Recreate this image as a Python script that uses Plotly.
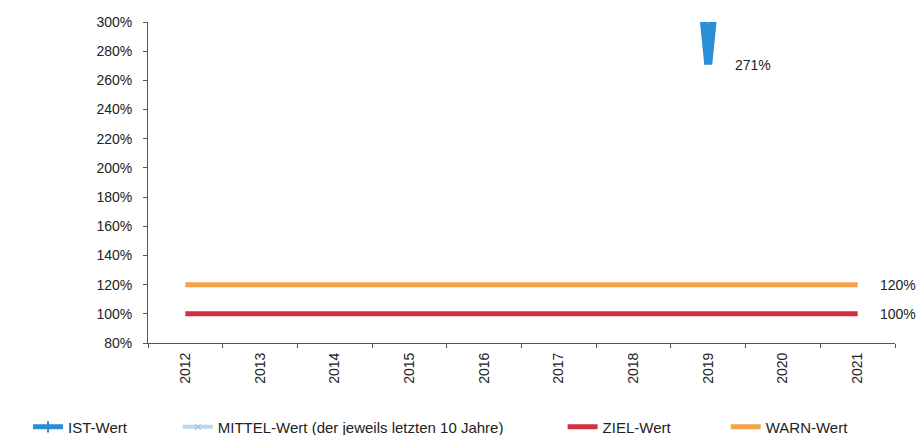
import plotly.graph_objects as go

years = ["2012", "2013", "2014", "2015", "2016", "2017", "2018", "2019", "2020", "2021"]
ist_values = [None, None, None, None, None, None, 7.8, 2.71, 7.8, None]
mittel_values = [None] * 10
ziel_values = [1.0] * 10
warn_values = [1.2] * 10
y_ticks = [0.8, 1.0, 1.2, 1.4, 1.6, 1.8, 2.0, 2.2, 2.4, 2.6, 2.8, 3.0]

FONT = "Liberation Sans, Arial, sans-serif"
NB = "\u00a0"
IST_C = "#2a8ed6"

fig = go.Figure()
# IST-Wert line (drawn) and legend entry
fig.add_trace(go.Scatter(
    x=years, y=ist_values, mode="lines", name="IST-Wert",
    line=dict(color=IST_C, width=8), showlegend=False, connectgaps=False,
))
fig.add_trace(go.Scatter(
    x=[None], y=[None], mode="lines+markers", name="IST-Wert" + NB * 11,
    line=dict(color=IST_C, width=5),
    marker=dict(symbol="line-ns-open", size=8, color=IST_C, line=dict(color=IST_C, width=2)),
))
fig.add_trace(go.Scatter(
    x=years, y=mittel_values, mode="lines+markers",
    name="MITTEL-Wert (der jeweils letzten 10 Jahre)" + NB * 13,
    line=dict(color="#bcd6ee", width=4),
    marker=dict(symbol="x-thin-open", size=6, color="#9bb7d6", line=dict(color="#9bb7d6", width=1)),
))
fig.add_trace(go.Scatter(
    x=years, y=ziel_values, mode="lines", name="ZIEL-Wert" + NB * 12,
    line=dict(color="#d3303f", width=5),
))
fig.add_trace(go.Scatter(
    x=years, y=warn_values, mode="lines", name="WARN-Wert",
    line=dict(color="#f5a24c", width=5),
))

annotations = [
    dict(x=years.index("2019"), y=ist_values[7], text="271%", xanchor="left", yanchor="middle", xshift=25, yshift=-1),
    dict(x=years.index("2021"), y=warn_values[9], text="120%", xanchor="left", yanchor="middle", xshift=20),
    dict(x=years.index("2021"), y=ziel_values[9], text="100%", xanchor="left", yanchor="middle", xshift=20),
]
for a in annotations:
    a.update(xref="x", yref="y", showarrow=False, font=dict(family=FONT, size=14, color="#222222"))

fig.update_layout(
    width=918, height=435,
    margin=dict(l=148, r=23, t=22, b=92, autoexpand=False),
    paper_bgcolor="white", plot_bgcolor="white",
    font=dict(family=FONT, size=14, color="#222222"),
    showlegend=True,
    legend=dict(orientation="h", x=-0.1606, xanchor="left",
                y=-0.262, yanchor="middle",
                font=dict(family=FONT, size=15, color="#222222"), itemwidth=30),
    annotations=annotations,
)
fig.update_xaxes(
    type="category", range=[-0.5, 9.5], tickangle=-90,
    showline=True, linecolor="#555555", linewidth=1,
    ticks="outside", ticklen=4, tickcolor="#555555", tickson="boundaries",
    showgrid=False, zeroline=False, ticklabelstandoff=3,
    tickfont=dict(family=FONT, size=14, color="#222222"),
)
fig.update_yaxes(
    range=[0.8, 3.0], tickvals=y_ticks, tickformat=".0%",
    showline=True, linecolor="#555555", linewidth=1,
    ticks="outside", ticklen=4, tickcolor="#555555",
    showgrid=False, zeroline=False, ticklabelstandoff=8,
    tickfont=dict(family=FONT, size=14, color="#222222"),
)

fig.write_html(
    "out.html",
    config={"displayModeBar": False},
    post_script="document.body.style.margin='0';document.body.style.overflow='hidden';",
)
